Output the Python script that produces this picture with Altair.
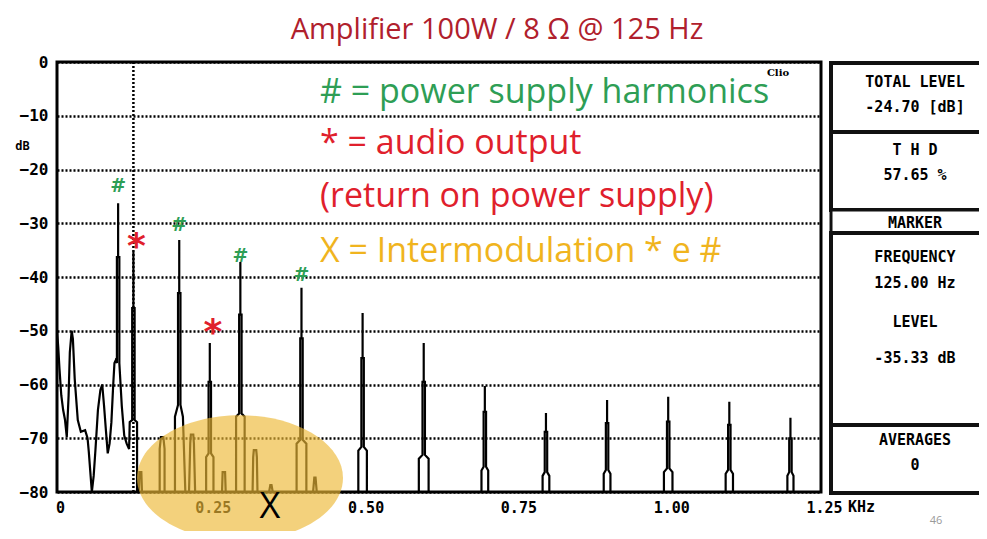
import altair as alt
import pandas as pd

# ------------------------------------------------------------------ data
title_text = "Amplifier 100W / 8 Ω @ 125 Hz"

# spectrum trace (kHz, dB)
freq_khz = [
    0.000, 0.002, 0.004, 0.007, 0.010, 0.013, 0.016, 0.019, 0.021, 0.024,
    0.026, 0.029, 0.034, 0.039, 0.046, 0.050, 0.052, 0.055, 0.057, 0.060,
    0.063, 0.067, 0.071, 0.074, 0.077, 0.080, 0.083, 0.086, 0.089, 0.092,
    0.094, 0.096,
    # 100 Hz
    0.098, 0.098, 0.100, 0.100, 0.100, 0.102, 0.102, 0.103,
    0.106, 0.110, 0.114, 0.118,
    # 125 Hz
    0.119, 0.123, 0.123, 0.125, 0.125, 0.125, 0.127, 0.127, 0.131, 0.131,
    # IM
    0.134, 0.135, 0.138, 0.139,
    0.168, 0.168, 0.170, 0.174, 0.176, 0.176,
    # 200 Hz
    0.193, 0.193, 0.198, 0.198, 0.200, 0.200, 0.200, 0.202, 0.202, 0.206, 0.210,
    0.216, 0.218, 0.219, 0.223, 0.224, 0.226,
    # 250 Hz
    0.244, 0.244, 0.248, 0.248, 0.250, 0.250, 0.250, 0.252, 0.252, 0.256, 0.256,
    0.270, 0.271, 0.275, 0.276,
    # 300 Hz
    0.293, 0.293, 0.298, 0.298, 0.300, 0.300, 0.300, 0.302, 0.302, 0.307, 0.307,
    0.320, 0.321, 0.322, 0.326, 0.327, 0.328,
    0.347, 0.349, 0.351, 0.353,
    # 400 Hz
    0.392, 0.392, 0.398, 0.398, 0.400, 0.400, 0.400, 0.402, 0.402, 0.408, 0.408,
    0.419, 0.421, 0.423, 0.425,
    # 500 Hz
    0.493, 0.493, 0.498, 0.498, 0.500, 0.500, 0.500, 0.502, 0.502, 0.507, 0.507,
    # 600 Hz
    0.592, 0.592, 0.598, 0.598, 0.600, 0.600, 0.600, 0.602, 0.602, 0.608, 0.608,
    # 700 Hz
    0.6945, 0.6945, 0.698, 0.698, 0.700, 0.700, 0.700, 0.702, 0.702, 0.7055, 0.7055,
    # 800 Hz
    0.7945, 0.7945, 0.798, 0.798, 0.800, 0.800, 0.800, 0.802, 0.802, 0.8055, 0.8055,
    # 900 Hz
    0.8945, 0.8945, 0.898, 0.898, 0.900, 0.900, 0.900, 0.902, 0.902, 0.9055, 0.9055,
    # 1000 Hz
    0.993, 0.993, 0.998, 0.998, 1.000, 1.000, 1.000, 1.002, 1.002, 1.007, 1.007,
    # 1100 Hz
    1.094, 1.094, 1.098, 1.098, 1.100, 1.100, 1.100, 1.102, 1.102, 1.106, 1.106,
    # 1200 Hz
    1.195, 1.195, 1.198, 1.198, 1.200, 1.200, 1.200, 1.202, 1.202, 1.205, 1.205,
    1.250,
]
level_db = [
    -50.0, -53.0, -57.0, -62.0, -64.7, -66.5, -69.8, -62.0, -54.0, -50.0,
    -51.5, -59.0, -66.6, -68.8, -68.5, -70.0, -72.5, -77.0, -80.0, -77.0,
    -72.0, -64.7, -61.0, -60.0, -64.0, -68.5, -72.8, -71.0, -67.0, -60.0,
    -56.0, -55.5,
    -56.0, -36.3, -36.3, -26.3, -36.3, -36.3, -56.0, -58.0,
    -64.0, -69.5, -71.0, -72.0,
    -67.0, -66.6, -45.8, -45.8, -35.3, -45.8, -45.8, -66.6, -67.0, -80.0,
    -80.0, -76.3, -76.3, -80.0,
    -80.0, -72.0, -69.8, -69.8, -72.0, -80.0,
    -80.0, -66.0, -63.8, -43.0, -43.0, -33.1, -43.0, -43.0, -63.8, -66.0, -80.0,
    -80.0, -71.0, -69.3, -69.3, -71.0, -80.0,
    -80.0, -73.5, -72.8, -59.5, -59.5, -52.3, -59.5, -59.5, -72.8, -73.5, -80.0,
    -80.0, -76.3, -76.3, -80.0,
    -80.0, -66.0, -65.4, -47.0, -47.0, -37.2, -47.0, -47.0, -65.4, -66.0, -80.0,
    -80.0, -73.5, -72.2, -72.2, -73.5, -80.0,
    -80.0, -78.7, -78.7, -80.0,
    -80.0, -71.0, -70.3, -51.4, -51.4, -42.0, -51.4, -51.4, -70.3, -71.0, -80.0,
    -80.0, -77.3, -77.3, -80.0,
    -80.0, -72.3, -71.6, -55.1, -55.1, -46.7, -55.1, -55.1, -71.6, -72.3, -80.0,
    -80.0, -73.8, -73.1, -59.5, -59.5, -52.3, -59.5, -59.5, -73.1, -73.8, -80.0,
    -80.0, -76.0, -75.3, -65.1, -65.1, -60.3, -65.1, -65.1, -75.3, -76.0, -80.0,
    -80.0, -77.0, -76.3, -68.8, -68.8, -65.3, -68.8, -68.8, -76.3, -77.0, -80.0,
    -80.0, -76.6, -75.9, -67.2, -67.2, -62.9, -67.2, -67.2, -75.9, -76.6, -80.0,
    -80.0, -76.3, -75.6, -66.9, -66.9, -62.3, -66.9, -66.9, -75.6, -76.3, -80.0,
    -80.0, -76.6, -75.9, -67.5, -67.5, -63.2, -67.5, -67.5, -75.9, -76.6, -80.0,
    -80.0, -77.0, -76.3, -70.0, -70.0, -66.2, -70.0, -70.0, -76.3, -77.0, -80.0,
    -80.0,
]

hash_freq_khz = [0.100, 0.200, 0.300, 0.400]      # power supply harmonics "#"
hash_db = [-23.0, -30.3, -36.1, -39.6]
star_freq_khz = [0.125, 0.250]                    # audio output "*"
star_db = [-33.1, -49.1]

marker_khz = 0.125
y_ticks = [0, -10, -20, -30, -40, -50, -60, -70, -80]
x_ticks = [0, 0.25, 0.5, 0.75, 1.0, 1.25]

legend_lines = [
    "# = power supply harmonics",
    "* = audio output",
    "(return on power supply)",
    "X = Intermodulation * e #",
]
panel_lines = [
    "TOTAL LEVEL", "-24.70 [dB]", "T H D", "57.65 %", "MARKER",
    "FREQUENCY", "125.00 Hz", "LEVEL", "-35.33 dB", "AVERAGES", "0",
]

# ------------------------------------------------------------------ style
W, H = 764, 430
MONO = "DejaVu Sans Mono"
SANS = "Open Sans"
GREEN = "#2E9E55"
RED = "#E0202C"
GOLD = "#F0B41E"
ELLIPSE = "#EDB935"
TITLE_RED = "#B0202C"

xs = alt.Scale(domain=[0, 1.25], nice=False, zero=False)
ys = alt.Scale(domain=[-80, 0], nice=False)

trace = pd.DataFrame({"freq": freq_khz, "db": level_db, "i": list(range(len(freq_khz)))})
one = alt.Data(values=[{"k": 0}])

line = alt.Chart(trace).mark_line(color="black", strokeWidth=2.2, clip=True).encode(
    x=alt.X("freq:Q", scale=xs, axis=alt.Axis(
        values=x_ticks, grid=False, ticks=False, domain=False,
        labelExpr="datum.value == 0 ? '0' : format(datum.value, '.2f')",
        labelFont=MONO, labelFontSize=15, labelFontWeight="bold", labelColor="black",
        labelPadding=8, labelOffset=3, labelFlush=False, labelOverlap=False, title=None)),
    y=alt.Y("db:Q", scale=ys, axis=alt.Axis(
        values=y_ticks, grid=True, gridColor="black", gridDash=[2, 2], gridWidth=2.5,
        ticks=False, domain=False, labelFont=MONO, labelFontSize=16,
        labelFontWeight="bold", labelColor="black", labelPadding=9,
        labelFlush=False, labelOverlap=False,
        title="dB", titleAngle=0, titleX=-35, titleY=83, titleFont=MONO,
        titleFontSize=12, titleFontWeight="bold", titleColor="black",
        titleAlign="center", titleBaseline="middle")),
    order="i:Q",
)

rule = alt.Chart(pd.DataFrame({"freq": [marker_khz]})).mark_rule(
    color="black", strokeWidth=2.5, strokeDash=[2, 2]
).encode(x=alt.X("freq:Q", scale=xs))

ellipse_path = "M -1 0 A 1 0.61 0 1 1 1 0 A 1 0.61 0 1 1 -1 0 Z"
ellipse = alt.Chart(one).mark_point(
    shape=ellipse_path, size=206 * 206, filled=True, fill=ELLIPSE, opacity=0.65, strokeWidth=0
).encode(x=alt.value(183), y=alt.value(416))

hashes = alt.Chart(pd.DataFrame({"freq": hash_freq_khz, "db": hash_db})).mark_text(
    text="#", font="DejaVu Sans", fontSize=19, fontWeight="bold", color=GREEN, baseline="middle"
).encode(x=alt.X("freq:Q", scale=xs), y=alt.Y("db:Q", scale=ys))

stars = alt.Chart(pd.DataFrame({"freq": star_freq_khz, "db": star_db})).mark_text(
    text="*", font="DejaVu Sans", fontSize=36, fontWeight="bold", color=RED,
    baseline="middle", dy=7, dx=3
).encode(x=alt.X("freq:Q", scale=xs), y=alt.Y("db:Q", scale=ys))


def txt(s, x, y, **kw):
    return alt.Chart(one).mark_text(text=s, **kw).encode(x=alt.value(x), y=alt.value(y))


def box(x, x2, y, y2, sw):
    return alt.Chart(one).mark_rect(fill="white", stroke="#111", strokeWidth=sw).encode(
        x=alt.value(x), x2=alt.value(x2), y=alt.value(y), y2=alt.value(y2))


layers = [line, rule, ellipse, hashes, stars]

# title
layers.append(txt(title_text, 440, -23, font=SANS, fontSize=29, color=TITLE_RED,
                  align="center", baseline="alphabetic"))
# legend annotations
leg_y = [41, 92, 145, 200]
leg_c = [GREEN, RED, RED, GOLD]
for s, yy, c in zip(legend_lines, leg_y, leg_c):
    layers.append(txt(s, 263, yy, font=SANS, fontSize=34, color=c, align="left",
                      baseline="alphabetic"))

layers.append(txt("X", 213, 456, font=SANS, fontSize=36, color="black",
                  align="center", baseline="alphabetic"))
layers.append(txt("Clio", 721, 11, font="DejaVu Serif", fontSize=10, fontWeight="bold",
                  color="black", align="center", baseline="middle"))
layers.append(txt("KHz", 791, 445, font=MONO, fontSize=15, fontWeight="bold",
                  color="black", align="left", baseline="middle"))
layers.append(txt("46", 879, 462, font=SANS, fontSize=11, color="#9a9a9a",
                  align="center", baseline="alphabetic"))

# side panel
for (a, b, sw) in [(1, 70, 4), (70, 148, 4), (148, 171, 3), (171, 363, 4), (363, 431, 4)]:
    layers.append(box(774, 940, a, b, sw))
panel_y = [20, 45, 88, 113, 161, 195, 221, 260, 296, 378, 403]
for s, yy in zip(panel_lines, panel_y):
    layers.append(txt(s, 858, yy, font=MONO, fontSize=15, fontWeight="bold",
                      color="black", align="center", baseline="middle"))

chart = alt.layer(*layers).properties(
    width=W, height=H,
    autosize=alt.AutoSizeParams(type="none"),
    padding={"left": 49, "top": 54, "right": 158, "bottom": 39},
    background="white",
).configure_view(stroke="black", strokeWidth=3)

chart.save("out.html", embed_options={"renderer": "svg", "actions": False})
